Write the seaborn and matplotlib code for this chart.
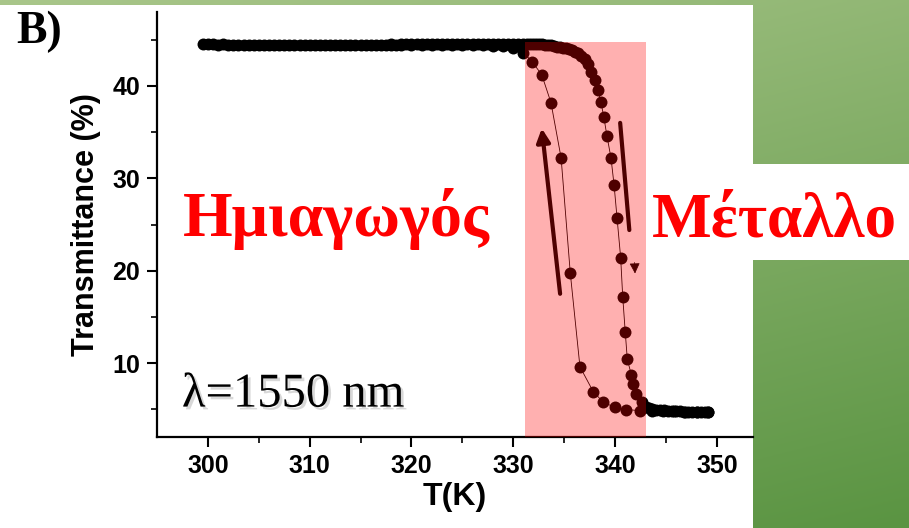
import numpy as np
import matplotlib
matplotlib.use("Agg")
import matplotlib.pyplot as plt
import matplotlib.patheffects as pe
from matplotlib.patches import Rectangle
from matplotlib.colors import to_rgb
import seaborn as sns

# ── Data ─────────────────────────────────────────────────────────────────────
# heating run: flat semiconductor plateau, switch near 340 K, metallic tail
heat_T = [299.5, 300.0, 300.5, 301.0, 301.5, 302.0, 302.5, 303.0, 303.5, 304.0,
          304.5, 305.0, 305.5, 306.0, 306.5, 307.0, 307.5, 308.0, 308.5, 309.0,
          309.5, 310.0, 310.5, 311.0, 311.5, 312.0, 312.5, 313.0, 313.5, 314.0,
          314.5, 315.0, 315.5, 316.0, 316.5, 317.0, 317.5, 318.0, 318.5, 319.0,
          319.5, 320.0, 320.5, 321.0, 321.5, 322.0, 322.5, 323.0, 323.5, 324.0,
          324.5, 325.0, 325.5, 326.0, 326.5, 327.0, 327.5, 328.0, 328.5, 329.0,
          329.5, 330.0, 330.5, 331.0, 331.3, 331.6, 331.9, 332.2, 332.5, 332.8,
          333.1, 333.4, 333.7, 334.0, 334.3, 334.6, 334.9, 335.2, 335.5, 335.8,
          336.1, 336.4, 336.7, 337.0, 337.3, 337.6, 338.0, 338.3, 338.6, 338.9,
          339.2, 339.6, 339.9, 340.2, 340.55, 340.75, 341.0, 341.2, 341.6, 341.8,
          342.1, 342.6, 343.0, 343.3, 343.6, 344.0, 344.4, 344.8, 345.2, 345.6,
          346.0, 346.4, 346.8, 347.2, 347.6, 348.0, 348.4, 348.8, 349.1]
heat_Tr = [44.50, 44.52, 44.50, 44.48, 44.50, 44.47, 44.45, 44.46, 44.44, 44.45,
           44.43, 44.44, 44.42, 44.43, 44.44, 44.42, 44.43, 44.44, 44.42, 44.43,
           44.44, 44.43, 44.44, 44.45, 44.44, 44.45, 44.44, 44.45, 44.46, 44.45,
           44.46, 44.47, 44.46, 44.47, 44.48, 44.47, 44.48, 44.49, 44.48, 44.50,
           44.49, 44.50, 44.51, 44.50, 44.51, 44.52, 44.51, 44.52, 44.53, 44.52,
           44.53, 44.54, 44.53, 44.54, 44.55, 44.54, 44.55, 44.56, 44.55, 44.56,
           44.57, 44.56, 44.57, 44.57, 44.56, 44.55, 44.54, 44.53, 44.51, 44.49,
           44.46, 44.42, 44.38, 44.33, 44.26, 44.19, 44.12, 44.05, 44.00, 43.88,
           43.72, 43.52, 43.26, 42.88, 42.40, 41.55, 40.65, 39.60, 38.30, 36.60,
           34.60, 32.20, 29.30, 25.65, 21.40, 17.20, 13.35, 10.45, 8.70, 7.75,
           6.65, 5.76, 5.30, 5.10, 5.00, 4.95, 4.90, 4.87, 4.85, 4.83,
           4.80, 4.78, 4.76, 4.75, 4.73, 4.72, 4.70, 4.69, 4.68]

# cooling run: larger steps, recovers at lower temperature (hysteresis)
cool_T = [349.1, 348.0, 346.9, 345.8, 344.7, 343.6, 342.4, 341.1, 340.0, 338.85,
          337.86, 336.55, 335.6, 334.7, 333.7, 332.8, 331.87, 331.0, 330.0, 329.0,
          328.0, 327.0, 326.0, 325.0, 324.0, 323.0, 322.0, 321.0, 320.0, 319.0,
          318.0]
cool_Tr = [4.66, 4.70, 4.74, 4.77, 4.80, 4.83, 4.86, 4.97, 5.20, 5.76,
           6.90, 9.60, 19.75, 32.20, 38.20, 41.20, 42.60, 43.60, 44.10, 44.28,
           44.34, 44.38, 44.40, 44.42, 44.40, 44.42, 44.40, 44.42, 44.40, 44.42,
           44.40]

x_ticks = [300, 310, 320, 330, 340, 350]
y_ticks = [10, 20, 30, 40]
transition_span = (331.15, 343.0)   # shaded switching window (K)
shade_top = 44.8

# ── Figure ───────────────────────────────────────────────────────────────────
W, H = 909, 528
sns.set_theme(style="ticks")
plt.rcParams["font.family"] = ["Liberation Sans", "DejaVu Sans"]
plt.rcParams["text.color"] = "black"
plt.rcParams["axes.labelcolor"] = "black"
plt.rcParams["xtick.color"] = "black"
plt.rcParams["ytick.color"] = "black"

fig = plt.figure(figsize=(W / 100, H / 100), dpi=100)
fig.patch.set_facecolor("white")

# green slide background (gradient) with white cut-outs
bg = fig.add_axes([0, 0, 1, 1])
yy, xx = np.mgrid[0:1:200j, 0:1:300j]
t = np.clip(0.3 * xx + 0.7 * yy, 0, 1)[..., None]
c0, c1 = np.array(to_rgb("#a9c68a")), np.array(to_rgb("#5a9442"))
bg.imshow(c0 * (1 - t) + c1 * t, extent=[0, W, H, 0], aspect="auto")
bg.add_patch(Rectangle((0, 5), 753, H - 5, color="white", lw=0))
bg.add_patch(Rectangle((753, 164), W - 753, 96, color="white", lw=0))
bg.set_xlim(0, W)
bg.set_ylim(H, 0)
bg.axis("off")

ax = fig.add_axes([157 / W, 1 - 437 / H, (753 - 157) / W, (437 - 12) / H])
ax.set_facecolor("white")

line_kw = dict(sort=False, color="black", linewidth=0.6, marker="o",
               markersize=8.6, markeredgewidth=0, ax=ax, legend=False)
sns.lineplot(x=heat_T, y=heat_Tr, **line_kw)
sns.lineplot(x=cool_T, y=cool_Tr, **line_kw)

# direction arrows
ax.annotate("", xy=(332.8, 35.4), xytext=(334.6, 17.5),
            arrowprops=dict(arrowstyle="-|>", color="black", lw=3,
                            mutation_scale=20, shrinkA=0, shrinkB=0))
ax.annotate("", xy=(341.4, 24.4), xytext=(340.5, 36.0),
            arrowprops=dict(arrowstyle="-", color="black", lw=3,
                            shrinkA=0, shrinkB=0))
ax.annotate("", xy=(341.96, 19.7), xytext=(341.92, 20.9),
            arrowprops=dict(arrowstyle="-|>", color="black", lw=0.5,
                            mutation_scale=16, shrinkA=0, shrinkB=0))

# translucent red window over the switching region
ax.add_patch(Rectangle((transition_span[0], 2), transition_span[1] - transition_span[0],
                       shade_top - 2, facecolor="red", alpha=0.31, lw=0, zorder=5))

ax.set_xlim(295, 353.55)
ax.set_ylim(2, 48)
ax.set_xticks(x_ticks)
ax.set_xticks([305, 315, 325, 335, 345], minor=True)
ax.set_yticks(y_ticks)
ax.set_yticks([5, 15, 25, 35, 45], minor=True)
ax.tick_params(which="major", direction="out", length=7, width=1.5,
               labelsize=18, pad=5, colors="black")
ax.tick_params(which="minor", direction="out", length=4, width=1.2, colors="black")
for lab in ax.get_xticklabels() + ax.get_yticklabels():
    lab.set_fontweight("bold")
for s in ["top", "right"]:
    ax.spines[s].set_visible(False)
for s in ["left", "bottom"]:
    ax.spines[s].set_linewidth(1.6)
    ax.spines[s].set_color("black")

ax.set_xlabel("T(K)", fontsize=23, fontweight="bold", labelpad=3, color="black")
ax.set_ylabel("Transmittance (%)", fontsize=22, fontweight="bold", labelpad=8,
              color="black")

serif = ["Liberation Serif", "DejaVu Serif"]
ax.text(297.55, 23.73, "Ημιαγωγός", family=serif, fontsize=46, fontweight="bold",
        color="red", ha="left", va="baseline", zorder=10)
ax.text(343.6, 23.73, "Μέταλλο", family=serif, fontsize=45.5, fontweight="bold",
        color="red", ha="left", va="baseline", zorder=10, clip_on=False)
ax.text(297.45, 5.29, "λ=1550 nm", family=serif, fontsize=35, color="black",
        ha="left", va="baseline", zorder=10,
        path_effects=[pe.withSimplePatchShadow(offset=(2, -2), shadow_rgbFace="gray",
                                               alpha=0.3)])

fig.text(16 / W, 1 - 43 / H, "B)", family=serif, fontsize=33, fontweight="bold",
         color="black", ha="left", va="baseline")

fig.savefig("out.png", dpi=100)
